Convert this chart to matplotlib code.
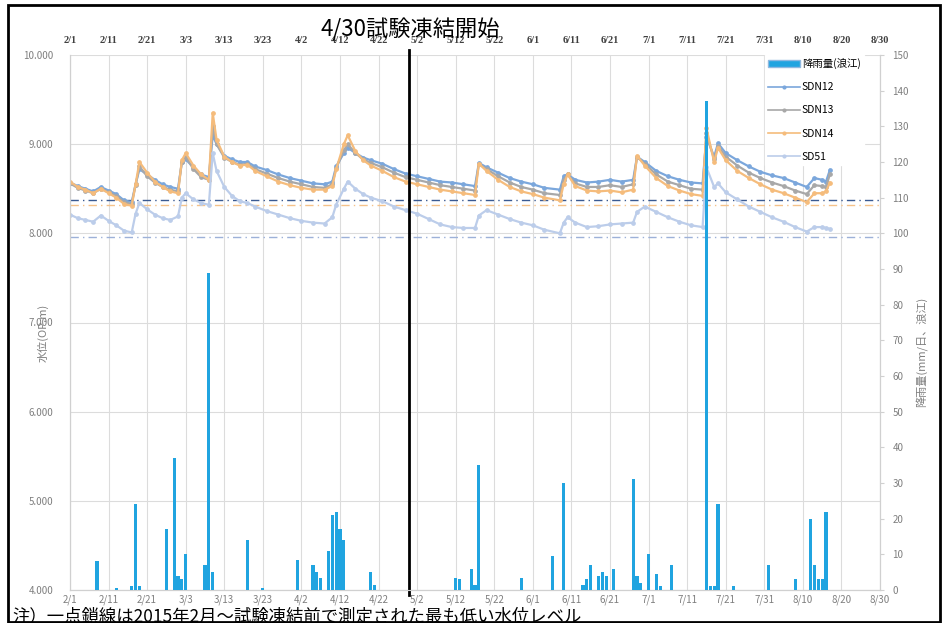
import matplotlib
matplotlib.use("Agg")
import matplotlib.pyplot as plt
from matplotlib.patches import Rectangle, Patch
from matplotlib.lines import Line2D
import pandas as pd

plt.rcParams['font.family'] = ['Noto Sans CJK JP', 'DejaVu Sans']

YEAR = 2015

# 観測日 (月/日) と水位 (OP.m)
level_dates = ["2/1", "2/3", "2/5", "2/7", "2/9", "2/11", "2/13", "2/15", "2/17", "2/18",
               "2/19", "2/21", "2/23", "2/25", "2/27", "3/1", "3/2", "3/3", "3/5", "3/7",
               "3/9", "3/10", "3/11", "3/13", "3/15", "3/17", "3/19", "3/21", "3/24", "3/27",
               "3/30", "4/2", "4/5", "4/8", "4/10", "4/11", "4/13", "4/14", "4/16", "4/18",
               "4/20", "4/23", "4/26", "4/29", "5/2", "5/5", "5/8", "5/11", "5/14", "5/17",
               "5/18", "5/20", "5/23", "5/26", "5/29", "6/1", "6/4", "6/8", "6/9", "6/10",
               "6/12", "6/15", "6/18", "6/21", "6/24", "6/27", "6/28", "6/30", "7/3", "7/6",
               "7/9", "7/12", "7/15", "7/16", "7/18", "7/19", "7/21", "7/24", "7/27", "7/30",
               "8/2", "8/5", "8/8", "8/11", "8/13", "8/15", "8/16", "8/17"]

sdn12 = [8.57, 8.53, 8.50, 8.47, 8.52, 8.48, 8.44, 8.37, 8.35, 8.55,
         8.72, 8.66, 8.60, 8.55, 8.52, 8.50, 8.80, 8.83, 8.74, 8.66,
         8.63, 9.10, 9.00, 8.87, 8.83, 8.80, 8.80, 8.75, 8.71, 8.66,
         8.62, 8.59, 8.56, 8.55, 8.58, 8.75, 8.90, 8.96, 8.90, 8.85,
         8.82, 8.78, 8.72, 8.67, 8.64, 8.61, 8.58, 8.57, 8.55, 8.53,
         8.79, 8.74, 8.68, 8.62, 8.58, 8.55, 8.51, 8.49, 8.64, 8.66,
         8.60, 8.57, 8.58, 8.60, 8.58, 8.60, 8.86, 8.80, 8.70, 8.64,
         8.60, 8.57, 8.56, 9.08, 8.86, 9.01, 8.90, 8.82, 8.75, 8.69,
         8.65, 8.62, 8.57, 8.52, 8.62, 8.60, 8.58, 8.71]

sdn13 = [8.56, 8.51, 8.48, 8.45, 8.50, 8.46, 8.42, 8.35, 8.33, 8.54,
         8.75, 8.64, 8.57, 8.52, 8.49, 8.47, 8.80, 8.86, 8.72, 8.63,
         8.60, 9.20, 9.00, 8.85, 8.80, 8.77, 8.78, 8.72, 8.67, 8.62,
         8.58, 8.55, 8.52, 8.51, 8.55, 8.73, 8.93, 9.00, 8.90, 8.83,
         8.79, 8.74, 8.68, 8.63, 8.60, 8.57, 8.54, 8.52, 8.50, 8.48,
         8.78, 8.72, 8.64, 8.57, 8.52, 8.49, 8.45, 8.43, 8.60, 8.66,
         8.56, 8.52, 8.52, 8.54, 8.52, 8.55, 8.86, 8.78, 8.66, 8.58,
         8.54, 8.50, 8.49, 9.12, 8.83, 8.98, 8.86, 8.76, 8.68, 8.62,
         8.57, 8.53, 8.48, 8.44, 8.54, 8.53, 8.52, 8.66]

sdn14 = [8.58, 8.52, 8.49, 8.45, 8.50, 8.45, 8.40, 8.33, 8.31, 8.55,
         8.80, 8.68, 8.58, 8.52, 8.47, 8.45, 8.82, 8.90, 8.76, 8.66,
         8.60, 9.35, 9.05, 8.86, 8.80, 8.76, 8.77, 8.70, 8.64, 8.58,
         8.54, 8.51, 8.49, 8.49, 8.53, 8.72, 9.00, 9.10, 8.92, 8.82,
         8.76, 8.70, 8.63, 8.58, 8.55, 8.52, 8.49, 8.47, 8.45, 8.43,
         8.78, 8.70, 8.60, 8.52, 8.47, 8.44, 8.40, 8.37, 8.55, 8.66,
         8.53, 8.48, 8.47, 8.48, 8.46, 8.49, 8.87, 8.76, 8.62, 8.53,
         8.48, 8.44, 8.42, 9.18, 8.80, 8.96, 8.82, 8.70, 8.62, 8.55,
         8.49, 8.45, 8.40, 8.35, 8.45, 8.45, 8.47, 8.57]

sd51 = [8.21, 8.17, 8.15, 8.13, 8.20, 8.14, 8.09, 8.03, 8.01, 8.22,
        8.34, 8.27, 8.21, 8.17, 8.15, 8.19, 8.40, 8.45, 8.38, 8.34,
        8.32, 8.90, 8.70, 8.52, 8.42, 8.36, 8.34, 8.30, 8.25, 8.21,
        8.17, 8.14, 8.12, 8.11, 8.18, 8.32, 8.50, 8.58, 8.50, 8.44,
        8.40, 8.36, 8.30, 8.26, 8.22, 8.16, 8.10, 8.07, 8.06, 8.06,
        8.20, 8.26, 8.21, 8.16, 8.12, 8.09, 8.04, 8.00, 8.12, 8.18,
        8.12, 8.07, 8.08, 8.10, 8.11, 8.12, 8.24, 8.30, 8.24, 8.18,
        8.13, 8.09, 8.07, 8.74, 8.52, 8.56, 8.46, 8.38, 8.30, 8.24,
        8.18, 8.13, 8.07, 8.02, 8.07, 8.07, 8.06, 8.05]

# 2015年2月～試験凍結前の最低水位
min_sdn12 = 8.37
min_sdn14 = 8.32
min_sd51 = 7.96

# 降雨量 (mm/日, 浪江)
rain_dates = ["2/8", "2/13", "2/17", "2/18", "2/19", "2/26", "2/28", "3/1", "3/2", "3/3",
              "3/8", "3/9", "3/10", "3/19", "3/23", "4/1", "4/5", "4/6", "4/7", "4/9",
              "4/10", "4/11", "4/12", "4/13", "4/20", "4/21", "5/12", "5/13", "5/16", "5/17",
              "5/18", "5/29", "6/6", "6/9", "6/14", "6/15", "6/16", "6/18", "6/19", "6/20",
              "6/22", "6/27", "6/28", "6/29", "7/1", "7/3", "7/4", "7/7", "7/16", "7/17",
              "7/18", "7/19", "7/23", "8/1", "8/8", "8/12", "8/13", "8/14", "8/15", "8/16"]
rain_mm = [8, 0.5, 1, 24, 1, 17, 37, 4, 3, 10,
           7, 89, 5, 14, 0.5, 8.5, 7, 5, 3.5, 11,
           21, 22, 17, 14, 5, 1.5, 3.5, 3, 6, 1.5,
           35, 3.5, 9.5, 30, 1.5, 3, 7, 4, 5, 4,
           6, 31, 4, 2, 10, 4.5, 1, 7, 137, 1,
           1, 24, 1, 7, 3, 20, 7, 3, 3, 22]

x_ticks = pd.date_range(f"{YEAR}-02-01", periods=22, freq="10D")
x_labels = [f"{d.month}/{d.day}" for d in x_ticks]


def to_dates(lst):
    return pd.to_datetime([f"{YEAR}/{s}" for s in lst], format="%Y/%m/%d")


fig = plt.figure(figsize=(9.44, 6.23), dpi=100)
ax = fig.add_axes([70 / 944, 1 - 590 / 623, 810 / 944, 535 / 623])
ax2 = ax.twinx()

ld = to_dates(level_dates)
series = [
    ("SDN12", sdn12, "#7BA7DC"),
    ("SDN13", sdn13, "#A8A8A8"),
    ("SDN14", sdn14, "#F5BC7C"),
    ("SD51", sd51, "#BCCDEA"),
]
handles = []
for name, vals, col in series:
    ax.plot(ld, vals, color=col, lw=1.6, marker="o", ms=2.4, mfc=col, mec=col, zorder=3)
    handles.append(Line2D([], [], color=col, lw=1.2, marker="o", ms=2, label=name))

# 最低水位レベル (一点鎖線)
ax.axhline(min_sdn14, color="#F5C28A", lw=1.0, ls=(0, (6, 3, 1, 3)), zorder=2)
ax.axhline(min_sdn12, color="#3A5A92", lw=1.0, ls=(0, (6, 3, 1, 3)), zorder=2)
ax.axhline(min_sd51, color="#9DB1D8", lw=1.0, ls=(0, (6, 3, 1, 3)), zorder=2)

# 試験凍結開始
start = pd.Timestamp(f"{YEAR}-04-30")
ax.axvline(start, ymin=-0.01, ymax=1.01, color="black", lw=2, zorder=5, clip_on=False)

ax2.bar(to_dates(rain_dates), rain_mm, width=0.8, color="#20A4E0", zorder=4)

ax.set_xlim(pd.Timestamp(f"{YEAR}-02-01"), pd.Timestamp(f"{YEAR}-08-30"))
ax.set_ylim(4, 10)
ax2.set_ylim(0, 150)

ax.set_xticks(x_ticks)
ax.set_xticklabels(x_labels)
ax.set_yticks(range(4, 11))
ax.set_yticklabels([f"{v:.3f}" for v in range(4, 11)])
ax2.set_yticks(range(0, 151, 10))

ax.grid(color="#DCDCDC", lw=0.8)
ax.set_axisbelow(True)
for a in (ax, ax2):
    for sp in a.spines.values():
        sp.set_color("#D0D0D0")
    a.spines["top"].set_visible(False)

ax.tick_params(axis="x", length=0, labelsize=7, labelcolor="#7F7F7F", pad=3)
ax.tick_params(axis="y", length=0, labelsize=7, labelcolor="#7F7F7F", pad=12)
ax2.tick_params(axis="y", length=3, color="#D0D0D0", labelsize=7, labelcolor="#7F7F7F", pad=6)

top = ax.secondary_xaxis("top")
top.set_xticks(x_ticks)
top.set_xticklabels(x_labels, fontfamily="Liberation Serif", fontweight="bold")
top.tick_params(length=0, labelsize=7.5, labelcolor="#404040", pad=7)
top.spines["top"].set_visible(False)

fig.text(43 / 944, 1 - 333 / 623, "水位(OP.m)", rotation=90, ha="center", va="center",
         fontsize=8, color="#7F7F7F")
fig.text(921 / 944, 1 - 352 / 623, "降雨量(mm/日、浪江)", rotation=90, ha="center",
         va="center", fontsize=8, color="#7F7F7F")

rain_handle = Patch(facecolor="#20A4E0", edgecolor="#8FB8E0", label="降雨量(浪江)")
leg = ax2.legend(handles=[rain_handle] + handles, loc="upper left",
                 bbox_to_anchor=(760 / 944, 1 - 50 / 623), bbox_transform=fig.transFigure,
                 frameon=True, fontsize=7.5, handlelength=3, labelspacing=1.25,
                 handletextpad=0.2, borderpad=0.3, fancybox=False)
leg.get_frame().set_edgecolor("white")
leg.get_frame().set_alpha(1)

fig.text(410 / 944, 1 - 30 / 623, "4/30試験凍結開始", ha="center", va="center",
         fontsize=16, color="black")
fig.text(12 / 944, 1 - 607 / 623,
         "注）一点鎖線は2015年2月～試験凍結前で測定された最も低い水位レベル",
         ha="left", va="top", fontsize=12.5, color="black")

fig.patches.append(Rectangle((8 / 944, 1 / 623), 932 / 944, 617 / 623, fill=False,
                             lw=2, ec="black", transform=fig.transFigure))

fig.savefig("out.png", dpi=100)
